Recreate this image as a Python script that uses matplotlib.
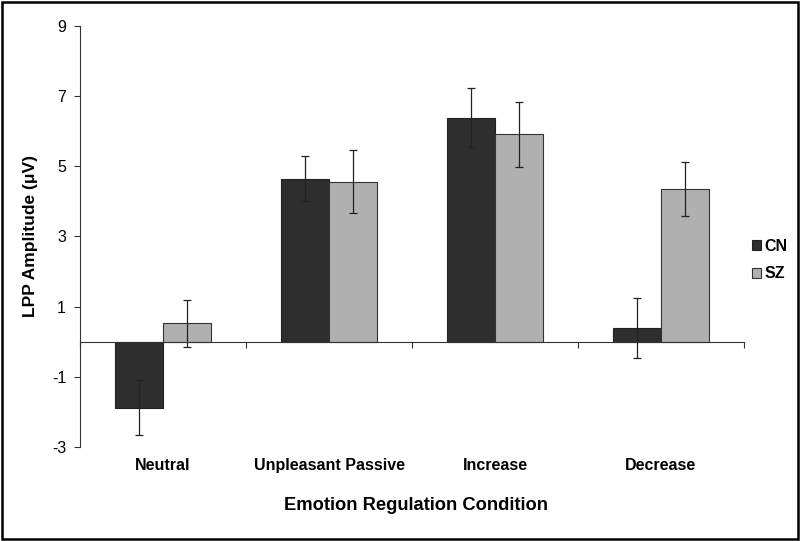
import matplotlib
matplotlib.use('Agg')
import matplotlib.pyplot as plt
import numpy as np

plt.rcParams['font.family'] = ['Liberation Sans', 'DejaVu Sans']

# values
conditions = ["Neutral", "Unpleasant Passive", "Increase", "Decrease"]
groups = ["CN", "SZ"]
cn_mean = [-1.88, 4.65, 6.39, 0.40]
cn_err = [0.78, 0.65, 0.83, 0.85]
sz_mean = [0.52, 4.56, 5.91, 4.34]
sz_err = [0.67, 0.90, 0.92, 0.77]
y_ticks = [-3, -1, 1, 3, 5, 7, 9]

fig = plt.figure(figsize=(8, 5.41), dpi=100)
ax = fig.add_axes([0.1, 0.1738, 0.83, 0.7782])

x = np.arange(len(conditions)) + 0.5
w = 0.287
err_kw = dict(ecolor='#222222', elinewidth=0.9, capsize=3, capthick=0.9)
ax.bar(x - w / 2, cn_mean, w, yerr=cn_err, color='#2e2e2e', edgecolor='#222222',
       linewidth=0.8, label=groups[0], error_kw=err_kw, zorder=2)
ax.bar(x + w / 2, sz_mean, w, yerr=sz_err, color='#b0b0b0', edgecolor='#333333',
       linewidth=0.8, label=groups[1], error_kw=err_kw, zorder=2)

ax.set_xlim(0, len(conditions))
ax.set_ylim(-3, 9)
ax.set_yticks(y_ticks)
ax.set_yticklabels([str(t) for t in y_ticks], fontsize=11.5)

# zero line acts as the x axis
ax.spines['top'].set_visible(False)
ax.spines['right'].set_visible(False)
ax.spines['bottom'].set_position(('data', 0))
ax.spines['bottom'].set_color('#333333')
ax.spines['left'].set_color('#333333')
ax.set_xticks(np.arange(len(conditions) + 1))
ax.set_xticklabels([])
ax.tick_params(axis='x', direction='out', length=4, color='#333333')
ax.tick_params(axis='y', direction='out', length=4, color='#333333', pad=6)

for xi, name in zip(x, conditions):
    ax.text(xi, -3.52, name, ha='center', va='center', fontsize=11.5,
            fontweight='bold', clip_on=False)

ax.set_ylabel("LPP Amplitude (\u03bcV)", fontsize=12.5, fontweight='bold', labelpad=10)
fig.text(0.52, 0.066, "Emotion Regulation Condition", ha='center', va='center',
         fontsize=13.2, fontweight='bold')

leg = ax.legend(loc='center left', bbox_to_anchor=(0.995, 0.444), frameon=False,
                prop={'weight': 'bold', 'size': 11.5}, handlelength=0.55,
                handleheight=0.6, handletextpad=0.25, borderaxespad=0.3,
                labelspacing=0.8)

# border round the whole picture
fig.patches.append(plt.Rectangle((0.002, 0.003), 0.996, 0.994, transform=fig.transFigure,
                                 fill=False, edgecolor='black', linewidth=1.8))

fig.savefig("out.png", dpi=100)
plt.close(fig)
